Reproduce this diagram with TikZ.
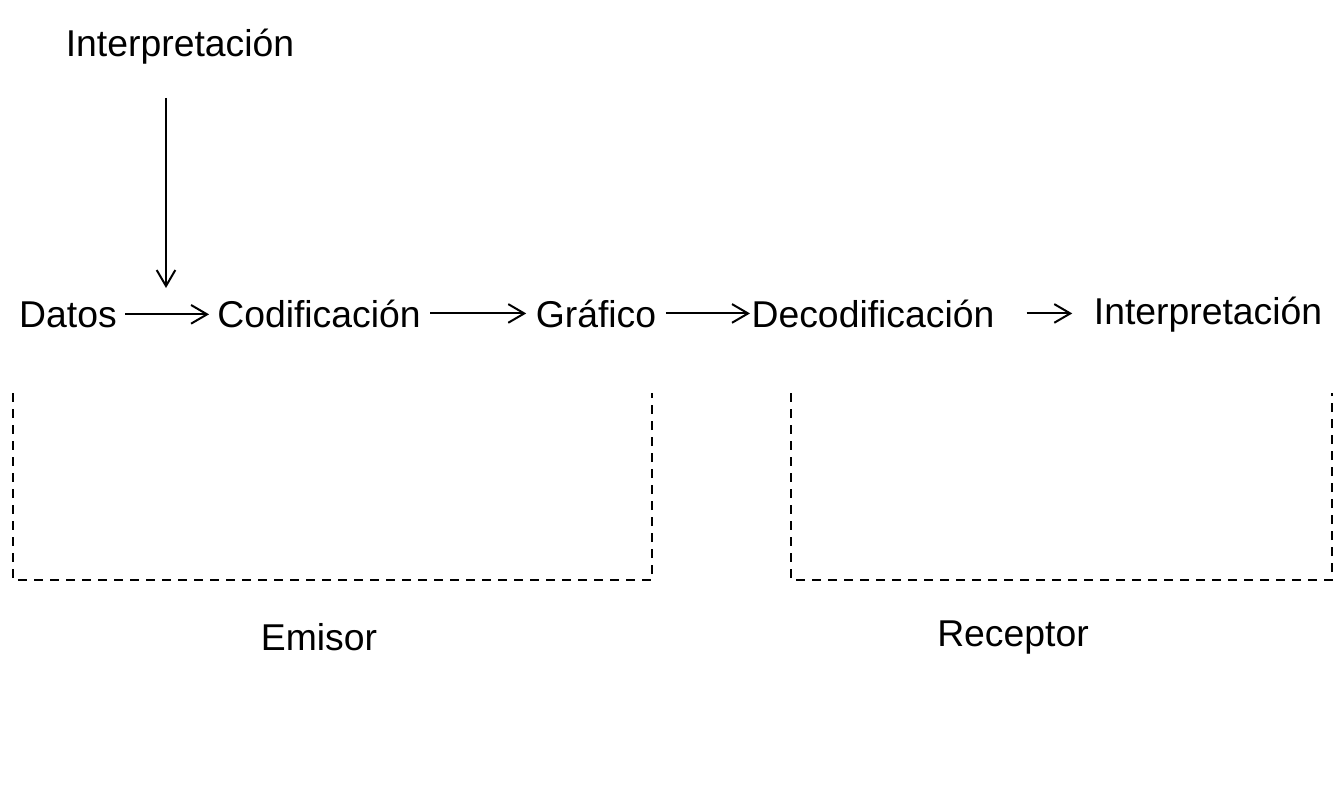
\documentclass[tikz,border=0pt]{standalone}
\usepackage{fontspec}
\setmainfont{Liberation Sans}
\usetikzlibrary{arrows.meta, positioning}

\begin{document}
\begin{tikzpicture}[
    x=0.75pt, y=-0.75pt,
    label/.style={inner sep=4pt, anchor=base, font=\fontsize{28}{33}\selectfont},
    arrow/.style={-{Straight Barb[length=12pt, width=14pt, line width=1.5pt]}, line width=1.5pt},
    frame/.style={dash pattern=on 6.5pt off 5.5pt, line width=1.3pt}
]
\useasboundingbox (0,0) rectangle (1344,806);

% Top input
\node[label] (interpA) at (180,57) {Interpretación};
\coordinate (feedtop) at (166,98);
\coordinate (feedend) at (166,288);
\draw[arrow] (feedtop) -- (feedend);

% Main chain
\node[label] (datos) at (68,327) {Datos};
\node[label] (codif) at (319,327) {Codificación};
\node[label] (graf) at (596,327) {Gráfico};
\node[label] (decod) at (873,327) {Decodificación};
\node[label] (interpB) at (1208,324) {Interpretación};

\draw[arrow] ([xshift=2pt]datos.east) -- ([xshift=-2pt]datos.east -| codif.west);
\draw[arrow] ([xshift=3pt]codif.east) -- ([xshift=-3pt]codif.east -| graf.west);
\draw[arrow] ([xshift=3pt]graf.east) -- ([xshift=3pt]graf.east -| decod.west);
\draw[arrow] ([xshift=20pt]decod.east) -- ([xshift=-12pt]decod.east -| interpB.west);

% Sender and receiver
\draw[frame] (13,393) -- (13,580) -- (652,580) -- (652,393);
\draw[frame] (791,393) -- (791,580) -- (1332,580) -- (1332,393);
\node[label] (emisor) at (319,650) {Emisor};
\node[label] (receptor) at (1013,646) {Receptor};

\end{tikzpicture}
\end{document}
